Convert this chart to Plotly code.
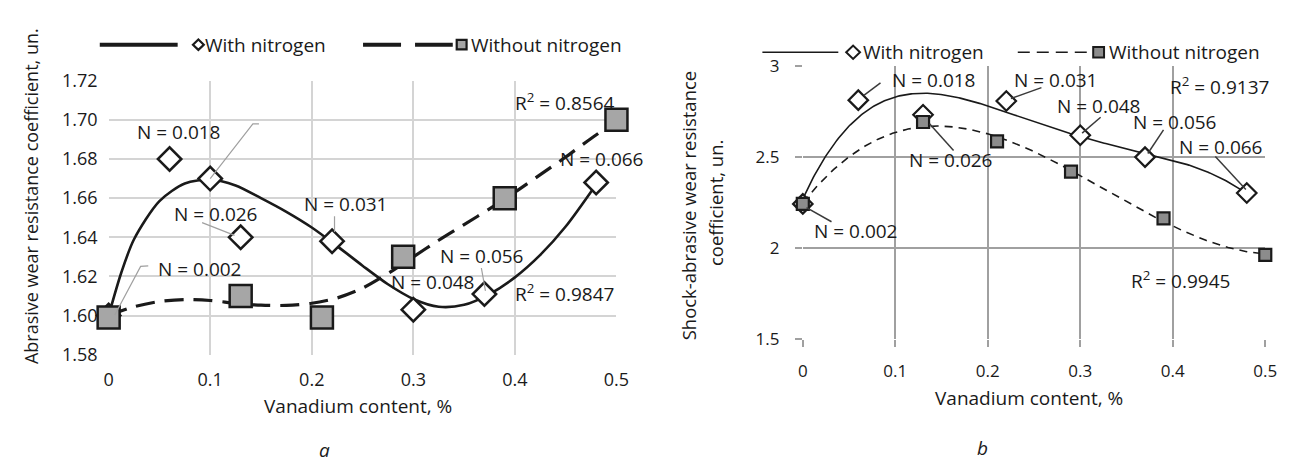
import numpy as np
import plotly.graph_objects as go

W, H = 1289, 462
FONT = "Open Sans"

# ---- data: chart a (abrasive wear) ----
a_x_with = [0.0, 0.06, 0.10, 0.13, 0.22, 0.30, 0.37, 0.48]
a_y_with = [1.600, 1.680, 1.670, 1.640, 1.638, 1.603, 1.611, 1.668]
a_x_wo = [0.0, 0.13, 0.21, 0.29, 0.39, 0.50]
a_y_wo = [1.599, 1.610, 1.599, 1.630, 1.660, 1.700]

# trendlines of chart a
a_trend_with_x = [0, 0.0125, 0.025, 0.05, 0.075, 0.1, 0.125, 0.15, 0.175, 0.2, 0.225, 0.25,
                  0.275, 0.3, 0.325, 0.35, 0.375, 0.4, 0.425, 0.45, 0.48]
a_trend_with_y = [1.600, 1.622, 1.639, 1.6585, 1.6675, 1.6695, 1.6665, 1.6600, 1.6530, 1.6450,
                  1.6355, 1.6255, 1.6160, 1.6085, 1.6045, 1.6055, 1.6110, 1.6195, 1.6310,
                  1.6455, 1.6670]
a_trend_wo_x = [0, 0.025, 0.05, 0.075, 0.1, 0.125, 0.15, 0.175, 0.2, 0.225, 0.25, 0.275,
                0.3, 0.325, 0.35, 0.375, 0.4, 0.425, 0.45, 0.475, 0.5]
a_trend_wo_y = [1.600, 1.6045, 1.6072, 1.6082, 1.6077, 1.6063, 1.6053, 1.6052, 1.6063, 1.6090,
                1.6140, 1.6215, 1.6300, 1.6385, 1.6465, 1.6545, 1.6630, 1.6720, 1.6810,
                1.6905, 1.6995]

# ---- data: chart b (shock-abrasive wear) ----
b_x_with = [0.0, 0.06, 0.13, 0.22, 0.30, 0.37, 0.48]
b_y_with = [2.24, 2.81, 2.73, 2.805, 2.617, 2.497, 2.30]
b_x_wo = [0.0, 0.13, 0.21, 0.29, 0.39, 0.50]
b_y_wo = [2.24, 2.69, 2.583, 2.417, 2.16, 1.96]
b_deg_with, b_deg_wo = 4, 3  # polynomial trendline orders

a_yticks = [1.58, 1.60, 1.62, 1.64, 1.66, 1.68, 1.70, 1.72]
b_yticks = [1.5, 2, 2.5, 3]
xticks = [0, 0.1, 0.2, 0.3, 0.4, 0.5]
xticktext = ["0", "0.1", "0.2", "0.3", "0.4", "0.5"]


def fit(x, y, d):
    p = np.polyfit(x, y, d)
    xs = np.linspace(min(x), max(x), 300)
    return xs, np.polyval(p, xs)


def px(v):
    return v / W


def py(v):
    return 1 - v / H


fig = go.Figure()
INK = "#1a1a1a"

# chart a trendlines
fig.add_trace(go.Scatter(x=a_trend_with_x, y=a_trend_with_y, mode="lines", xaxis="x", yaxis="y",
                         line=dict(color=INK, width=2.6, shape="spline", smoothing=0.8),
                         showlegend=False, hoverinfo="skip"))
fig.add_trace(go.Scatter(x=a_trend_wo_x, y=a_trend_wo_y, mode="lines", xaxis="x", yaxis="y",
                         line=dict(color=INK, width=3.2, shape="spline", smoothing=0.8,
                                   dash="19px,10px"),
                         showlegend=False, hoverinfo="skip"))
# chart b trendlines (polynomial fits of the data)
xs, ys = fit(b_x_with, b_y_with, b_deg_with)
fig.add_trace(go.Scatter(x=xs, y=ys, mode="lines", xaxis="x2", yaxis="y2",
                         line=dict(color=INK, width=1.6), showlegend=False, hoverinfo="skip"))
xs, ys = fit(b_x_wo, b_y_wo, b_deg_wo)
fig.add_trace(go.Scatter(x=xs, y=ys, mode="lines", xaxis="x2", yaxis="y2",
                         line=dict(color=INK, width=1.6, dash="8px,6px"),
                         showlegend=False, hoverinfo="skip"))

# markers (diamonds first, squares drawn on top as in the original)
fig.add_trace(go.Scatter(x=a_x_with, y=a_y_with, mode="markers", xaxis="x", yaxis="y",
                         marker=dict(symbol="diamond", size=18, color="white",
                                     line=dict(color=INK, width=2.5)),
                         cliponaxis=False, showlegend=False))
fig.add_trace(go.Scatter(x=a_x_wo, y=a_y_wo, mode="markers", xaxis="x", yaxis="y",
                         marker=dict(symbol="square", size=22, color="#a6a6a6",
                                     line=dict(color=INK, width=2.5)),
                         cliponaxis=False, showlegend=False))
fig.add_trace(go.Scatter(x=b_x_with, y=b_y_with, mode="markers", xaxis="x2", yaxis="y2",
                         marker=dict(symbol="diamond", size=15, color="white",
                                     line=dict(color=INK, width=2.2)),
                         cliponaxis=False, showlegend=False))
fig.add_trace(go.Scatter(x=b_x_wo, y=b_y_wo, mode="markers", xaxis="x2", yaxis="y2",
                         marker=dict(symbol="square", size=12, color="#8c8c8c",
                                     line=dict(color=INK, width=2.2)),
                         cliponaxis=False, showlegend=False))

ann = []
shapes = []


def label(text, x, y, xr, yr, size=19):
    ann.append(dict(text=text, x=x, y=y, xref=xr, yref=yr, showarrow=False,
                    xanchor="center", yanchor="middle",
                    font=dict(family=FONT, size=size, color=INK)))


def leader(pts, xr, yr, color, width):
    path = "M " + " L ".join(f"{a},{b}" for a, b in pts)
    shapes.append(dict(type="path", path=path, xref=xr, yref=yr,
                       line=dict(color=color, width=width)))


# chart a labels
GL = "#a0a0a0"
label("N = 0.018", 0.069, 1.6936, "x", "y")
leader([(0.1, 1.67), (0.142, 1.698), (0.148, 1.698)], "x", "y", GL, 1.2)
label("N = 0.026", 0.106, 1.652, "x", "y")
leader([(0.092, 1.6475), (0.124, 1.641)], "x", "y", GL, 1.2)
label("N = 0.031", 0.234, 1.657, "x", "y")
leader([(0.2224, 1.6507), (0.2224, 1.6427)], "x", "y", GL, 1.2)
label("N = 0.002", 0.09, 1.624, "x", "y")
leader([(0.039, 1.6254), (0.0315, 1.6251), (0.006, 1.6003)], "x", "y", GL, 1.2)
label("N = 0.048", 0.319, 1.617, "x", "y")
label("N = 0.056", 0.368, 1.6305, "x", "y")
leader([(0.367, 1.6243), (0.371, 1.6126)], "x", "y", GL, 1.2)
label("R<sup>2</sup> = 0.9847", 0.449, 1.6117, "x", "y")
label("R<sup>2</sup> = 0.8564", 0.449, 1.7091, "x", "y")
label("N = 0.066", 0.486, 1.680, "x", "y")

# chart b labels
DL = "#3a3a3a"
label("N = 0.018", 0.142, 2.922, "x2", "y2")
leader([(0.066, 2.836), (0.084, 2.905)], "x2", "y2", DL, 1.5)
label("N = 0.031", 0.274, 2.922, "x2", "y2")
leader([(0.225, 2.819), (0.258, 2.879)], "x2", "y2", DL, 1.5)
label("R<sup>2</sup> = 0.9137", 0.45, 2.888, "x2", "y2")
label("N = 0.048", 0.32, 2.776, "x2", "y2")
leader([(0.302, 2.629), (0.322, 2.716)], "x2", "y2", DL, 1.5)
label("N = 0.056", 0.402, 2.69, "x2", "y2")
leader([(0.373, 2.517), (0.39, 2.647)], "x2", "y2", DL, 1.5)
label("N = 0.066", 0.452, 2.552, "x2", "y2")
leader([(0.446, 2.50), (0.479, 2.319)], "x2", "y2", DL, 1.5)
label("N = 0.026", 0.16, 2.483, "x2", "y2")
leader([(0.137, 2.681), (0.163, 2.534)], "x2", "y2", DL, 1.5)
label("N = 0.002", 0.057, 2.09, "x2", "y2")
leader([(0.004, 2.22), (0.031, 2.142)], "x2", "y2", DL, 1.5)
label("R<sup>2</sup> = 0.9945", 0.408, 1.821, "x2", "y2")


def ptext(text, x, y, size=19, angle=0, italic=False):
    ann.append(dict(text=(f"<i>{text}</i>" if italic else text), x=px(x), y=py(y),
                    xref="paper", yref="paper", showarrow=False, textangle=angle,
                    xanchor="center", yanchor="middle",
                    font=dict(family=FONT, size=size, color=INK)))


ptext("Abrasive wear resistance coefficient, un.", 19, 185, 18, -90)
ptext("Shock-abrasive wear resistance", 685, 194, 18.5, -90)
ptext("coefficient, un.", 712, 192, 18.5, -90)
ptext("Vanadium content, %", 350, 406, 19)
ptext("Vanadium content, %", 1030, 398, 19)
ptext("a", 316, 452, 19, italic=True)
ptext("b", 983, 450, 19, italic=True)


# legends (drawn)
def leg_line(x0, x1, y, width, dash=None):
    shapes.append(dict(type="line", x0=px(x0), x1=px(x1), y0=py(y), y1=py(y),
                       xref="paper", yref="paper",
                       line=dict(color=INK, width=width, dash=dash)))


def leg_diamond(cx, cy, r, lw):
    path = (f"M {px(cx-r)},{py(cy)} L {px(cx)},{py(cy-r)} L {px(cx+r)},{py(cy)} "
            f"L {px(cx)},{py(cy+r)} Z")
    shapes.append(dict(type="path", path=path, xref="paper", yref="paper",
                       fillcolor="white", line=dict(color=INK, width=lw)))


def leg_square(cx, cy, r, lw, fill):
    shapes.append(dict(type="rect", x0=px(cx-r), x1=px(cx+r), y0=py(cy-r), y1=py(cy+r),
                       xref="paper", yref="paper", fillcolor=fill,
                       line=dict(color=INK, width=lw)))


def leg_text(text, x, y, size=19):
    ann.append(dict(text=text, x=px(x), y=py(y), xref="paper", yref="paper",
                    showarrow=False, xanchor="left", yanchor="middle",
                    font=dict(family=FONT, size=size, color=INK)))


leg_line(88, 167, 25, 4)
leg_diamond(188, 25, 5.5, 2.2)
leg_text("With nitrogen", 193, 25)
leg_line(355, 446, 25, 4, "38px,14px")
leg_square(455, 25, 5, 2.2, "#a6a6a6")
leg_text("Without nitrogen", 462, 25)

leg_line(760, 837, 33, 1.6)
leg_diamond(852, 33, 7, 2)
leg_text("With nitrogen", 860, 33)
leg_line(1019, 1091, 33, 1.6, "12px,7px")
leg_square(1101, 33, 5.5, 2, "#8c8c8c")
leg_text("Without nitrogen", 1109, 33)

fig.update_layout(
    width=W, height=H, margin=dict(l=0, r=0, t=0, b=0),
    paper_bgcolor="white", plot_bgcolor="white", showlegend=False,
    xaxis=dict(domain=[px(97), px(612)], range=[0, 0.5], tickvals=xticks, ticktext=xticktext,
               showgrid=True, gridcolor="#d4d4d4", gridwidth=1.5, zeroline=False,
               anchor="y", ticklabelstandoff=12,
               tickfont=dict(family=FONT, size=18, color=INK)),
    yaxis=dict(domain=[py(352), py(63)], range=[1.58, 1.72], tickvals=a_yticks,
               ticktext=[f"{v:.2f}" for v in a_yticks],
               showgrid=True, gridcolor="#d4d4d4", gridwidth=1.5, zeroline=False,
               anchor="x", ticklabelstandoff=10,
               tickfont=dict(family=FONT, size=18, color=INK)),
    xaxis2=dict(domain=[px(801), px(1270)], range=[0, 0.5], tickvals=xticks, ticktext=xticktext,
                showgrid=True, gridcolor="#a0a0a0", gridwidth=1.5, zeroline=False,
                ticks="outside", ticklen=7, tickcolor="#a0a0a0", tickwidth=1.5,
                anchor="y2", ticklabelstandoff=10,
                tickfont=dict(family=FONT, size=17, color=INK)),
    yaxis2=dict(domain=[py(335), py(47)], range=[1.5, 3], tickvals=b_yticks,
                ticktext=["1.5", "2", "2.5", "3"],
                showgrid=True, gridcolor="#a0a0a0", gridwidth=1.5, zeroline=False,
                ticks="outside", ticklen=7, tickcolor="#a0a0a0", tickwidth=1.5,
                anchor="x2", ticklabelstandoff=12,
                tickfont=dict(family=FONT, size=17, color=INK)),
    annotations=ann, shapes=shapes,
)

fig.write_html("out.html")
